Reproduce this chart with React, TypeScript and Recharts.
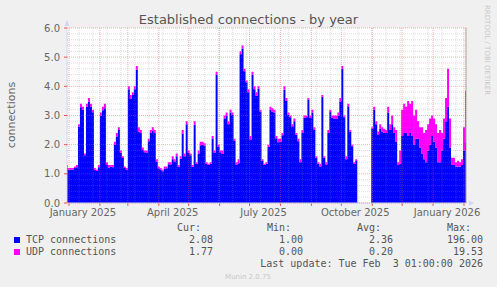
import { Area, AreaChart, CartesianGrid, ReferenceLine, XAxis, YAxis } from "recharts";

// one point every 2 days over the 400 day window (day 400 = Feb 3 2026)
const days = Array.from({ length: 201 }, (_, i) => i * 2);

const tcpValues = [
  1.22, 1.14, 1.15, 1.14, 1.2, 1.23, 2.62, 3.28, 3.2, 1.64,
  3.3, 3.48, 3.3, 3.11, 1.14, 1.1, 1.23, 3.0, 3.18, 3.25,
  1.3, 1.22, 1.24, 1.23, 2.0, 2.28, 2.5, 1.72, 1.54, 1.2,
  1.15, 3.9, 3.58, 3.7, 3.9, 4.58, 2.45, 2.4, 1.82, 1.74,
  1.73, 2.12, 2.4, 2.48, 2.4, 1.42, 1.19, 1.15, 1.09, 1.17,
  1.19, 1.33, 1.32, 1.5, 1.42, 1.6, 1.24, 1.52, 2.38, 1.6,
  2.7, 1.72, 1.64, 1.24, 2.68, 1.34, 1.7, 1.98, 2.0, 1.97,
  1.34, 1.3, 1.34, 2.2, 1.72, 4.4, 1.92, 1.74, 1.68, 2.9,
  2.98, 2.7, 3.1, 3.02, 2.14, 1.32, 1.36, 5.1, 5.3, 4.52,
  4.14, 3.8, 2.18, 4.4, 3.9, 3.68, 3.92, 3.14, 1.44, 1.3,
  1.34, 1.92, 3.2, 3.13, 3.1, 2.22, 2.08, 2.1, 2.32, 3.88,
  3.5, 3.02, 2.94, 2.62, 2.8, 2.34, 2.12, 1.4, 2.4, 2.92,
  2.94, 3.55, 2.92, 3.1, 2.52, 1.54, 1.35, 1.25, 3.64, 1.55,
  1.32, 2.4, 3.12, 2.92, 2.9, 2.88, 3.0, 3.48, 4.6, 2.94,
  1.5, 3.32, 2.44, 1.95, 1.34, 1.44, 0, 0, 0, 0,
  0, 0, 0, 2.55, 3.2, 2.7, 2.35, 2.55, 2.45, 2.4,
  2.4, 3.1, 2.5, 2.7, 2.4, 2.1, 1.3, 1.35, 2.3, 2.4,
  2.4, 2.3, 2.4, 2.3, 2.0, 2.2, 2.2, 1.9, 1.7, 1.5,
  1.4, 1.8, 2.0, 2.3, 2.1, 1.9, 1.4, 1.4, 1.8, 2.2,
  2.8, 3.3, 1.9, 1.3, 1.3, 1.25, 1.25, 1.25, 1.3, 1.8,
  2.08,
];

const udpValues = [
  0.08, 0.06, 0.05, 0.06, 0.05, 0.07, 0.08, 0.12, 0.1, 0.06,
  0.1, 0.12, 0.1, 0.09, 0.06, 0.05, 0.07, 0.1, 0.12, 0.15,
  0.1, 0.08, 0.06, 0.07, 0.1, 0.12, 0.1, 0.08, 0.06, 0.05,
  0.05, 0.1, 0.12, 0.1, 0.1, 0.12, 0.15, 0.1, 0.08, 0.06,
  0.07, 0.08, 0.1, 0.12, 0.1, 0.08, 0.06, 0.05, 0.06, 0.08,
  0.06, 0.07, 0.08, 0.1, 0.08, 0.1, 0.06, 0.08, 0.12, 0.1,
  0.1, 0.08, 0.06, 0.06, 0.12, 0.06, 0.1, 0.12, 0.1, 0.08,
  0.06, 0.05, 0.06, 0.1, 0.08, 0.1, 0.08, 0.06, 0.12, 0.1,
  0.12, 0.1, 0.1, 0.08, 0.06, 0.08, 0.14, 0.1, 0.1, 0.08,
  0.06, 0.1, 0.12, 0.1, 0.1, 0.12, 0.08, 0.06, 0.06, 0.05,
  0.06, 0.08, 0.1, 0.12, 0.1, 0.08, 0.12, 0.1, 0.08, 0.12,
  0.1, 0.08, 0.06, 0.08, 0.1, 0.06, 0.08, 0.1, 0.1, 0.08,
  0.06, 0.05, 0.08, 0.1, 0.08, 0.06, 0.05, 0.1, 0.06, 0.05,
  0.08, 0.1, 0.08, 0.08, 0.1, 0.12, 0.1, 0.12, 0.1, 0.06,
  0.1, 0.08, 0.06, 0.05, 0.06, 0.06, 0, 0, 0, 0,
  0, 0, 0, 0.05, 0.1, 0.1, 0.1, 0.15, 0.15, 0.15,
  0.1, 0.2, 0.2, 0.3, 0.2, 0.4, 0.1, 0.45, 0.9, 1.0,
  0.9, 1.2, 1.0, 1.2, 1.0, 1.0, 0.6, 0.7, 0.9, 0.9,
  1.1, 0.9, 0.9, 0.7, 0.8, 0.8, 1.0, 1.1, 0.6, 0.7,
  0.8, 1.3, 1.0, 0.25, 0.25, 0.15, 0.2, 0.15, 0.2, 0.8,
  1.77,
];

const xLabelDays = [16, 106, 197, 289, 381];
const xLabels = ["January 2025", "April 2025", "July 2025", "October 2025", "January 2026"];
const monthStarts = [2, 33, 61, 92, 122, 153, 183, 214, 245, 275, 306, 336, 367, 398];
const biweekly = [
  12, 26, 40, 54, 68, 82, 96, 110, 124, 138, 152, 166, 180, 194,
  208, 222, 236, 250, 264, 278, 292, 306, 320, 334, 348, 362, 376, 390,
];
const yMajor = [0, 1, 2, 3, 4, 5, 6];
const yMinor = [
  0.2, 0.4, 0.6, 0.8, 1.2, 1.4, 1.6, 1.8, 2.2, 2.4, 2.6, 2.8, 3.2, 3.4, 3.6, 3.8,
  4.2, 4.4, 4.6, 4.8, 5.2, 5.4, 5.6, 5.8,
];

const seriesNames = ["TCP connections", "UDP connections"];
const seriesColors = ["#0000ff", "#ff00ff"];
const curValues = ["2.08", "1.77"];
const minValues = ["1.00", "0.00"];
const avgValues = ["2.36", "0.20"];
const maxValues = ["196.00", "19.53"];

const data = days.map((day, i) => ({ day, tcp: tcpValues[i], udp: udpValues[i] }));

const mono = "'DejaVu Sans Mono', monospace";

export default function App() {
  return (
    <div
      style={{
        position: "absolute",
        left: 0,
        top: 0,
        width: 497,
        height: 287,
        background: "#f0f0f0",
        fontFamily: "'DejaVu Sans', sans-serif",
      }}
    >
      <AreaChart
        width={497}
        height={287}
        data={data}
        margin={{ top: 28, right: 31, bottom: 64, left: 0 }}
      >
        <CartesianGrid horizontal={false} vertical={false} fill="#ffffff" />
        <XAxis
          type="number"
          dataKey="day"
          domain={[0, 400]}
          ticks={xLabelDays}
          interval={0}
          tickFormatter={(v) => xLabels[xLabelDays.indexOf(v)] ?? ""}
          tickLine={false}
          tickSize={3}
          tickMargin={3}
          axisLine={{ stroke: "#cfd6f8" }}
          tick={{ fontSize: 10, fill: "#666666" }}
          height={20}
        />
        <YAxis
          domain={[0, 6]}
          ticks={yMajor}
          interval={0}
          tickFormatter={(v) => Number(v).toFixed(1)}
          width={67}
          tickSize={3}
          tickMargin={4}
          tickLine={{ stroke: "#e95050" }}
          axisLine={{ stroke: "#cfd6f8" }}
          tick={{ fontSize: 10, fill: "#666666" }}
        />
        <Area
          type="step"
          dataKey="tcp"
          stackId="conn"
          stroke="none"
          fill="#0000ff"
          fillOpacity={1}
          isAnimationActive={false}
        />
        <Area
          type="step"
          dataKey="udp"
          stackId="conn"
          stroke="none"
          fill="#ff00ff"
          fillOpacity={1}
          isAnimationActive={false}
        />
        <CartesianGrid
          horizontalValues={yMinor}
          verticalValues={biweekly}
          stroke="#8f8f8f"
          strokeOpacity={0.3}
          strokeDasharray="1 1"
          zIndex={600}
        />
        <CartesianGrid
          horizontalValues={yMajor}
          verticalValues={monthStarts}
          stroke="#e95050"
          strokeOpacity={0.45}
          strokeDasharray="1 1"
          zIndex={610}
        />
        <ReferenceLine x={400} stroke="#a0a0a0" />
        {monthStarts.map((d) => (
          <ReferenceLine
            key={d}
            segment={[
              { x: d, y: 0 },
              { x: d, y: -0.1 },
            ]}
            stroke="#e95050"
            ifOverflow="visible"
          />
        ))}
      </AreaChart>

      <svg
        width={497}
        height={287}
        style={{ position: "absolute", left: 0, top: 0, pointerEvents: "none" }}
      >
        <text x={248.5} y={24} textAnchor="middle" fontSize={13} fill="#555555">
          Established connections - by year
        </text>
        <text
          x={15}
          y={115}
          textAnchor="middle"
          fontSize={11}
          fill="#666666"
          transform="rotate(-90 15 115)"
        >
          connections
        </text>
        <text
          x={485}
          y={5}
          fontSize={7}
          fill="#c8c8c8"
          transform="rotate(90 485 5)"
        >
          RRDTOOL / TOBI OETIKER
        </text>
        <polygon points="469,200.5 474,203 469,205.5" fill="#cfd6f8" />
        <polygon points="64.5,26 67,20 69.5,26" fill="#cfd6f8" />

        <g fontFamily={mono} fontSize={10} fill="#555555">
          <text x={201} y={231} textAnchor="end">Cur:</text>
          <text x={291} y={231} textAnchor="end">Min:</text>
          <text x={381} y={231} textAnchor="end">Avg:</text>
          <text x={471} y={231} textAnchor="end">Max:</text>
          {seriesNames.map((name, i) => {
            const y = 243 + i * 12;
            return (
              <g key={name}>
                <rect x={14} y={y - 6} width={6} height={6} fill={seriesColors[i]} />
                <text x={26} y={y}>{name}</text>
                <text x={213} y={y} textAnchor="end">{curValues[i]}</text>
                <text x={303} y={y} textAnchor="end">{minValues[i]}</text>
                <text x={393} y={y} textAnchor="end">{avgValues[i]}</text>
                <text x={483} y={y} textAnchor="end">{maxValues[i]}</text>
              </g>
            );
          })}
          <text x={483} y={267} textAnchor="end" style={{ whiteSpace: "pre" }}>
            {"Last update: Tue Feb  3 01:00:00 2026"}
          </text>
        </g>
        <text x={248} y={279} textAnchor="middle" fontSize={7} fill="#c8c8c8">
          Munin 2.0.75
        </text>
      </svg>
    </div>
  );
}
